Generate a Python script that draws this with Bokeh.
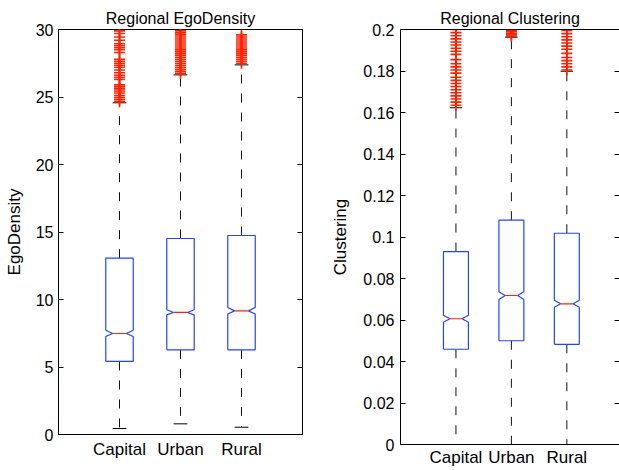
from bokeh.plotting import figure
from bokeh.layouts import row, column
from bokeh.models import Range1d, FixedTicker, LinearAxis, CustomJSTickFormatter
from bokeh.embed import file_html
from bokeh.resources import INLINE

categories = ["Capital", "Urban", "Rural"]
positions = [1, 2, 3]

# ---- Regional EgoDensity ----
ego_q1 = [5.41, 6.27, 6.27]
ego_med = [7.48, 9.04, 9.16]
ego_q3 = [13.06, 14.52, 14.74]
ego_notch_lo = [7.26, 8.86, 8.93]
ego_notch_hi = [7.72, 9.24, 9.41]
ego_whisk_lo = [0.44, 0.79, 0.54]
ego_whisk_hi = [24.57, 26.64, 27.38]
ego_out_capital = [24.65, 24.8, 24.95, 25.1, 25.3, 25.45, 25.6, 25.75, 25.9, 26.3,
                   26.45, 26.6, 26.8, 27.0, 27.2, 27.35, 27.5, 27.65, 27.8, 28.3,
                   28.5, 28.65, 28.8, 28.95, 29.2, 29.45, 29.7, 29.9]
ego_out_urban = [26.75, 26.9, 27.05, 27.2, 27.35, 27.5, 27.65, 27.8, 27.95, 28.1,
                 28.25, 28.4, 28.55, 28.7, 28.85, 29.0, 29.15, 29.3, 29.45, 29.6,
                 29.75, 29.9]
ego_out_rural = [27.5, 27.65, 27.8, 27.95, 28.1, 28.25, 28.4, 28.55, 28.7, 28.85,
                 29.0, 29.15, 29.3, 29.45, 29.6]
ego_ticks = [0, 5, 10, 15, 20, 25, 30]

# ---- Regional Clustering ----
clu_q1 = [0.0459, 0.0500, 0.0483]
clu_med = [0.0606, 0.0718, 0.0678]
clu_q3 = [0.0930, 0.1081, 0.1018]
clu_notch_lo = [0.0589, 0.0699, 0.0661]
clu_notch_hi = [0.0623, 0.0736, 0.0695]
clu_whisk_lo = [0.0, 0.0, 0.0]
clu_whisk_hi = [0.1623, 0.1963, 0.1799]
clu_out_capital = [0.1635, 0.165, 0.1665, 0.168, 0.1695, 0.171, 0.1725, 0.174,
                   0.1755, 0.177, 0.179, 0.1805, 0.182, 0.1835, 0.1855, 0.188,
                   0.1895, 0.191, 0.1925, 0.194, 0.1955, 0.197, 0.1985, 0.2]
clu_out_urban = [0.1968, 0.1975, 0.1982, 0.199, 0.1997]
clu_out_rural = [0.1805, 0.182, 0.1835, 0.185, 0.1865, 0.1885, 0.1905, 0.192,
                 0.1935, 0.195, 0.1965, 0.198, 0.1995]
clu_ticks = [0, 0.02, 0.04, 0.06, 0.08, 0.1, 0.12, 0.14, 0.16, 0.18, 0.2]

FONT = "Liberation Sans"
BLUE = "#2244ff"
RED = "#ff2200"
HALF_W = 0.225
INDENT = 0.1125
CAP = 0.1125


def draw_boxes(p, q1, med, q3, nlo, nhi, wlo, whi, outs):
    xs, ys = [], []
    for x, a, m, b, nl, nh in zip(positions, q1, med, q3, nlo, nhi):
        L, R = x - HALF_W, x + HALF_W
        xs.append([L, L, L + INDENT, L, L, R, R, R - INDENT, R, R, L])
        ys.append([a, nl, m, nh, b, b, nh, m, nl, a, a])
    p.segment(positions, q3, positions, whi, line_color="#111111", line_width=1,
              line_dash="9 10")
    p.segment(positions, q1, positions, wlo, line_color="#111111", line_width=1,
              line_dash="9 10")
    p.segment([x - CAP for x in positions], whi, [x + CAP for x in positions], whi,
              line_color="black", line_width=1)
    p.segment([x - CAP for x in positions], wlo, [x + CAP for x in positions], wlo,
              line_color="black", line_width=1)
    p.multi_line(xs, ys, line_color=BLUE, line_width=1.2)
    p.segment([x - HALF_W + INDENT for x in positions], med,
              [x + HALF_W - INDENT for x in positions], med,
              line_color=RED, line_width=1.2)
    for x, o in zip(positions, outs):
        p.scatter([x] * len(o), o, marker="cross", size=11, line_color=RED,
                  line_width=1.6)


def style(p, ticks, ylabel, title_text, tick_standoff, label_standoff):
    p.xgrid.visible = False
    p.ygrid.visible = False
    p.background_fill_color = "white"
    p.border_fill_color = "white"
    p.title.text = title_text
    p.title.align = "center"
    p.title.text_font = FONT
    p.title.text_font_size = "16px"
    p.title.text_font_style = "normal"
    p.title.text_color = "black"
    p.title.standoff = 5

    xa = p.xaxis[0]
    xa.ticker = FixedTicker(ticks=positions)
    xa.major_label_overrides = {k: v for k, v in zip(positions, categories)}
    xa.major_tick_in = 0
    xa.major_tick_out = 0
    xa.minor_tick_in = 0
    xa.minor_tick_out = 0
    xa.major_label_standoff = 5
    xa.axis_label_standoff = 0
    xa.major_label_text_font = FONT
    xa.major_label_text_font_size = "17px"
    xa.major_label_text_color = "black"
    xa.axis_line_color = "black"

    ya = p.yaxis[0]
    ya.ticker = FixedTicker(ticks=ticks)
    ya.major_tick_in = 5
    ya.major_tick_out = 0
    ya.minor_tick_in = 0
    ya.minor_tick_out = 0
    ya.major_label_standoff = tick_standoff
    ya.major_label_text_font = FONT
    ya.major_label_text_font_size = "16px"
    ya.major_label_text_color = "black"
    ya.axis_line_color = "black"
    ya.axis_label = ylabel
    ya.axis_label_text_font = FONT
    ya.axis_label_text_font_size = "17px"
    ya.axis_label_text_font_style = "normal"
    ya.axis_label_text_color = "black"
    ya.axis_label_standoff = label_standoff

    ra = LinearAxis(ticker=FixedTicker(ticks=ticks),
                    formatter=CustomJSTickFormatter(code="return ''"),
                    major_tick_in=5, major_tick_out=0, minor_tick_in=0,
                    minor_tick_out=0, major_label_standoff=0,
                    axis_label_standoff=0, axis_line_color="black")
    p.add_layout(ra, "right")
    return ra


# Left panel
p1 = figure(width=310, height=470, output_backend="svg", toolbar_location=None,
            x_range=Range1d(0, 4), y_range=Range1d(0, 30),
            min_border_left=58, min_border_right=8, min_border_top=29,
            min_border_bottom=36)
p1.outline_line_color = "black"
p1.outline_line_width = 1
draw_boxes(p1, ego_q1, ego_med, ego_q3, ego_notch_lo, ego_notch_hi,
           ego_whisk_lo, ego_whisk_hi, [ego_out_capital, ego_out_urban, ego_out_rural])
p1.yaxis[0].formatter = CustomJSTickFormatter(code="return tick.toString()")
style(p1, ego_ticks, "EgoDensity", "Regional EgoDensity", 5, 9)

# Right panel
p2 = figure(width=309, height=470, output_backend="svg", toolbar_location=None,
            x_range=Range1d(0, 3.95), y_range=Range1d(0, 0.2),
            min_border_left=90, min_border_right=0, min_border_top=29,
            min_border_bottom=26)
p2.outline_line_color = None
draw_boxes(p2, clu_q1, clu_med, clu_q3, clu_notch_lo, clu_notch_hi,
           clu_whisk_lo, clu_whisk_hi, [clu_out_capital, clu_out_urban, clu_out_rural])
p2.yaxis[0].formatter = CustomJSTickFormatter(
    code="return Number(tick.toFixed(2)).toString()")
ra2 = style(p2, clu_ticks, "Clustering", "Regional Clustering", 6, 10)
ra2.axis_line_color = None
p2.xaxis[0].major_label_standoff = 3
top2 = LinearAxis(ticker=FixedTicker(ticks=[]),
                  formatter=CustomJSTickFormatter(code="return ''"),
                  major_tick_in=0, major_tick_out=0, minor_tick_in=0,
                  minor_tick_out=0, major_label_standoff=0,
                  axis_label_standoff=0, axis_line_color="black")
p2.add_layout(top2, "above")

layout = row(column(p1), column(p2))
open("out.html", "w").write(file_html(layout, INLINE))
